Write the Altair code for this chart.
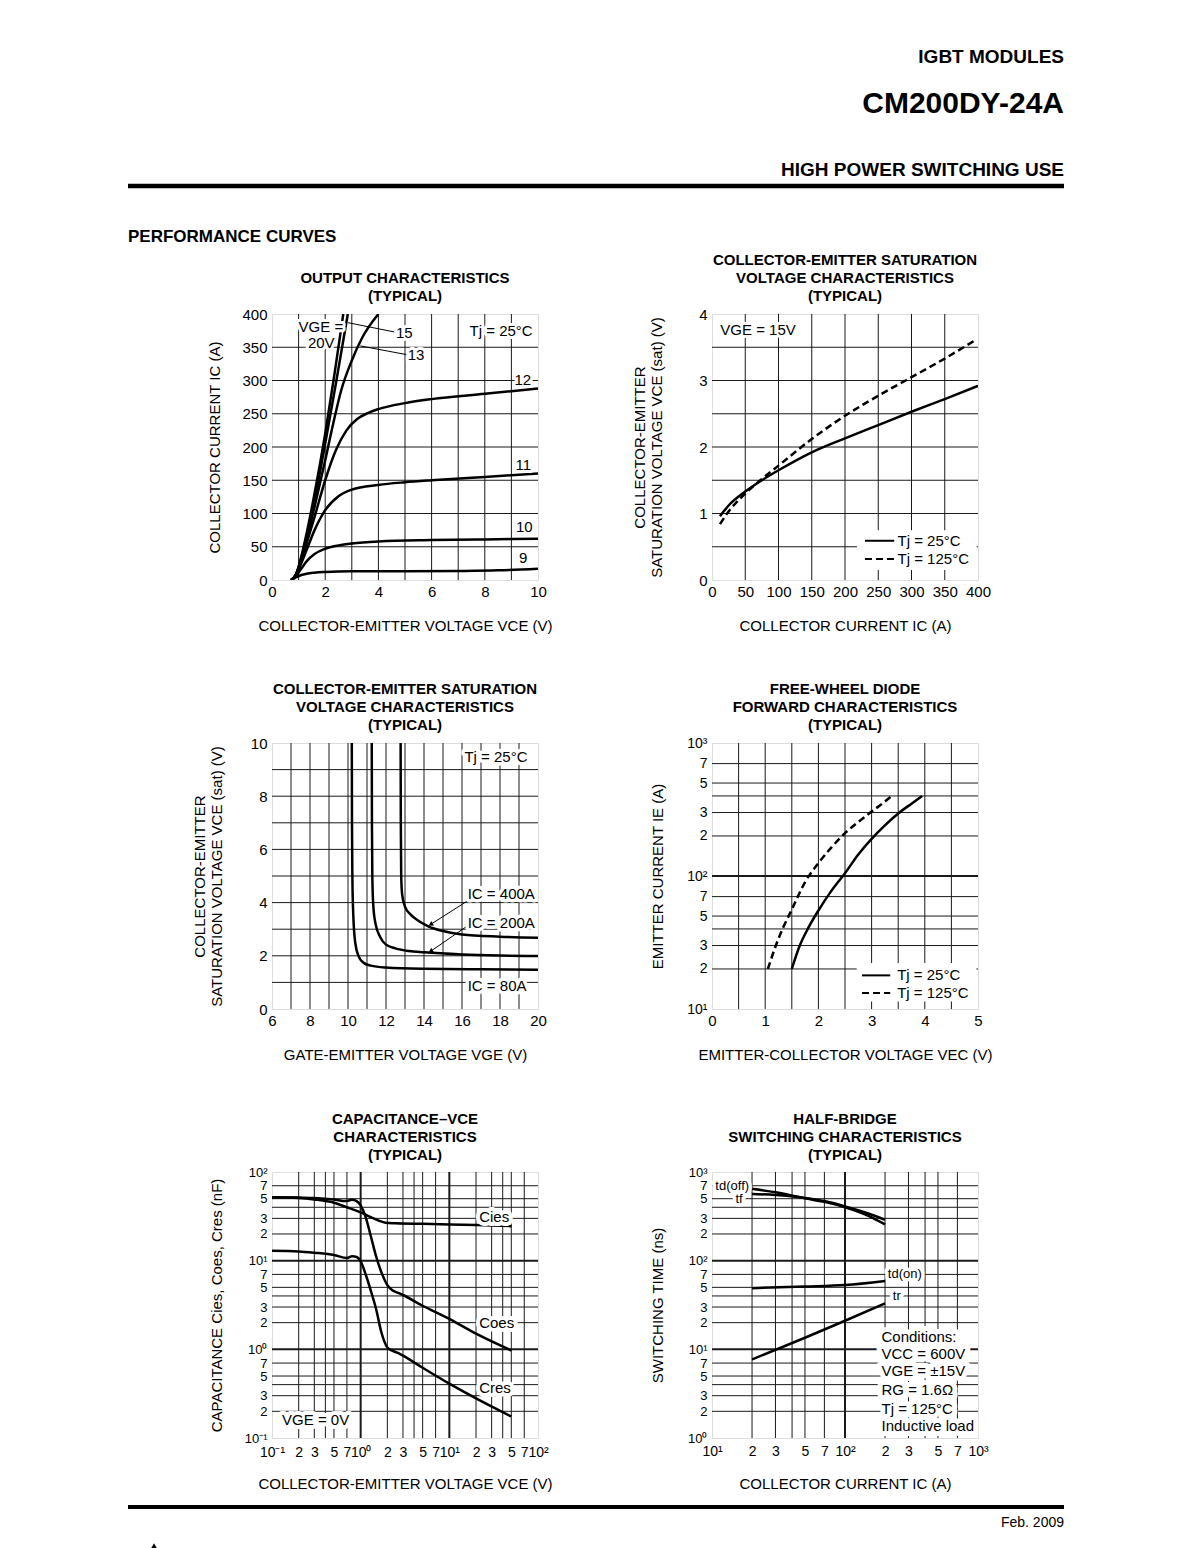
import altair as alt
import pandas as pd

FONT = "Liberation Sans"
PW, PH = 266, 266
GRID = "#1a1a1a"

# ---------------- 1. OUTPUT CHARACTERISTICS ----------------
oc_vce_20 = [0.72, 0.9, 1.1, 1.3, 1.6, 2.0, 2.35, 2.68]
oc_ic_20 = [0, 8, 35, 70, 130, 220, 310, 400]
oc_vce_15 = [0.72, 0.9, 1.1, 1.3, 1.6, 2.0, 2.4, 2.85]
oc_ic_15 = [0, 8, 33, 65, 120, 205, 295, 400]
oc_vce_13 = [0.72, 0.9, 1.1, 1.3, 1.6, 2.0, 2.3, 2.6, 3.0, 3.4, 4.0]
oc_ic_13 = [0, 8, 30, 60, 110, 180, 235, 285, 330, 365, 400]
oc_vce_12 = [0.72, 0.9, 1.1, 1.3, 1.6, 2.0, 2.4, 2.8, 3.2, 3.6, 4.0, 5.0, 6.0, 8.0, 10.0]
oc_ic_12 = [0, 8, 28, 55, 95, 150, 195, 225, 242, 251, 257, 266, 272, 280, 288]
oc_vce_11 = [0.72, 0.9, 1.1, 1.3, 1.6, 2.0, 2.5, 3.0, 4.0, 5.0, 6.0, 8.0, 10.0]
oc_ic_11 = [0, 7, 25, 45, 75, 105, 126, 136, 143, 147, 150, 155, 160]
oc_vce_10 = [0.72, 0.9, 1.1, 1.3, 1.6, 2.0, 2.5, 3.0, 4.0, 6.0, 8.0, 10.0]
oc_ic_10 = [0, 6, 17, 28, 39, 47, 52, 55, 58, 60, 61, 62]
oc_vce_9 = [0.72, 0.9, 1.1, 1.3, 1.6, 2.0, 3.0, 5.0, 7.0, 8.5, 10.0]
oc_ic_9 = [0, 4, 7.5, 9.5, 11, 12, 13, 13, 13.5, 14.5, 17]
oc_ticks_x = [0, 2, 4, 6, 8, 10]
oc_ticks_y = [0, 50, 100, 150, 200, 250, 300, 350, 400]
oc_grid_x = [1, 2, 3, 4, 5, 6, 7, 8, 9]
oc_grid_y = [50, 100, 150, 200, 250, 300, 350]
oc_lab_text = ["VGE =", "20V", "15", "13"]
oc_lab_x = [1.0, 1.35, 4.66, 5.1]
oc_lab_y = [380, 357, 372, 339]
oc_rlab_text = ["12", "11", "10", "9", "Tj = 25°C"]
oc_rlab_x = [9.74, 9.74, 9.8, 9.6, 9.8]
oc_rlab_y = [301, 173, 80, 33, 375]
oc_lead_x = [2.85, 3.32]
oc_lead_y = [387, 352]
oc_lead_x2 = [4.6, 5.05]
oc_lead_y2 = [373, 339]

# ---------------- 2. VCE(sat) vs IC ----------------
vs_ic_25 = [12, 25, 50, 75, 100, 150, 200, 250, 300, 350, 400]
vs_v_25 = [0.96, 1.12, 1.33, 1.5, 1.65, 1.92, 2.13, 2.33, 2.53, 2.72, 2.92]
vs_ic_125 = [12, 25, 50, 75, 100, 150, 200, 250, 300, 350, 395]
vs_v_125 = [0.84, 1.03, 1.3, 1.52, 1.72, 2.12, 2.47, 2.77, 3.05, 3.33, 3.6]
vs_ticks_x = [0, 50, 100, 150, 200, 250, 300, 350, 400]
vs_ticks_y = [0, 1, 2, 3, 4]
vs_grid_x = [50, 100, 150, 200, 250, 300, 350]
vs_grid_y = [0.5, 1, 1.5, 2, 2.5, 3, 3.5]

# ---------------- 3. VCE(sat) vs VGE ----------------
ge_vge_80 = [10.2, 10.21, 10.23, 10.28, 10.38, 10.55, 10.8, 11.2, 12, 14, 17, 20]
ge_v_80 = [10, 7, 5, 3.5, 2.5, 2.0, 1.75, 1.63, 1.56, 1.51, 1.49, 1.48]
ge_vge_200 = [11.25, 11.26, 11.28, 11.33, 11.45, 11.7, 12.0, 12.5, 13.2, 14, 16, 18, 20]
ge_v_200 = [10, 7, 5, 3.9, 3.2, 2.7, 2.42, 2.28, 2.18, 2.13, 2.05, 2.01, 1.99]
ge_vge_400 = [12.77, 12.78, 12.8, 12.85, 13.0, 13.3, 13.7, 14.2, 15, 16, 18, 20]
ge_v_400 = [10, 7, 5, 4.3, 3.85, 3.55, 3.32, 3.12, 2.93, 2.8, 2.72, 2.68]
ge_ticks_x = [6, 8, 10, 12, 14, 16, 18, 20]
ge_ticks_y = [0, 2, 4, 6, 8, 10]
ge_grid_x = [7, 8, 9, 10, 11, 12, 13, 14, 15, 16, 17, 18, 19]
ge_grid_y = [1, 2, 3, 4, 5, 6, 7, 8, 9]

# ---------------- 4. FREE-WHEEL DIODE ----------------
fd_v_25 = [1.5, 1.65, 1.8, 2.0, 2.25, 2.5, 2.75, 3.0, 3.25, 3.5, 3.75, 3.95]
fd_i_25 = [20, 30, 40, 55, 78, 105, 145, 190, 240, 295, 350, 400]
fd_v_125 = [1.05, 1.2, 1.35, 1.5, 1.75, 2.0, 2.25, 2.5, 2.75, 3.0, 3.2, 3.38]
fd_i_125 = [20, 30, 42, 56, 90, 125, 165, 210, 255, 305, 350, 400]
fd_ticks_x = [0, 1, 2, 3, 4, 5]
fd_grid_x = [0.5, 1, 1.5, 2, 2.5, 3, 3.5, 4, 4.5]
fd_ticks_y = [10, 20, 30, 50, 70, 100, 200, 300, 500, 700, 1000]
fd_labels_y = ["10¹", "2", "3", "5", "7", "10²", "2", "3", "5", "7", "10³"]
fd_grid_y = [20, 30, 40, 50, 70, 200, 300, 400, 500, 700]
fd_grid_y_major = [100]

# ---------------- 5. CAPACITANCE ----------------
cap_v_ies = [0.1, 0.2, 0.3, 0.5, 0.7, 1.0, 1.3, 1.6, 1.9, 2.5, 5, 10, 20, 50]
cap_c_ies = [52, 51, 49, 45, 40, 35, 31, 28.3, 26.8, 26.4, 26, 25.6, 25.2, 24.5]
cap_v_oes = [0.1, 0.2, 0.3, 0.5, 0.68, 0.8, 0.9, 1.0, 1.15, 1.3, 1.5, 1.75, 2.0, 2.3, 2.7, 3.0, 5, 10, 20, 50]
cap_c_oes = [52, 51.5, 51, 49, 47, 48.5, 47, 42, 30, 19, 11, 7, 5.3, 4.6, 4.3, 4.1, 3.1, 2.2, 1.5, 0.97]
cap_v_res = [0.1, 0.2, 0.3, 0.5, 0.7, 0.8, 0.9, 1.0, 1.15, 1.3, 1.5, 1.7, 2.0, 2.3, 2.7, 3.0, 5, 10, 20, 50]
cap_c_res = [12.9, 12.7, 12.3, 11.6, 10.7, 11.2, 11.0, 9.8, 6.8, 4.6, 2.8, 1.6, 1.05, 0.96, 0.9, 0.85, 0.62, 0.41, 0.28, 0.175]
cap_ticks = [0.1, 0.2, 0.3, 0.5, 0.7, 1, 2, 3, 5, 7, 10, 20, 30, 50, 70, 100]
cap_labels = ["10⁻¹", "2", "3", "5", "7", "10⁰", "2", "3", "5", "7", "10¹", "2", "3", "5", "7", "10²"]
cap_grid = [0.2, 0.3, 0.4, 0.5, 0.7, 2, 3, 4, 5, 7, 20, 30, 40, 50, 70]
cap_grid_major = [1, 10]

# ---------------- 6. SWITCHING ----------------
sw_ic = [20, 30, 50, 70, 100, 150, 200]
sw_tdoff = [646, 590, 505, 460, 400, 320, 256]
sw_tf = [565, 550, 510, 470, 410, 340, 288]
sw_ic2 = [20, 50, 100, 200]
sw_tdon = [49, 51, 53, 59]
sw_tr = [7.7, 13.5, 21, 33]
sw_ticks_x = [10, 20, 30, 50, 70, 100, 200, 300, 500, 700, 1000]
sw_labels_x = ["10¹", "2", "3", "5", "7", "10²", "2", "3", "5", "7", "10³"]
sw_grid_x = [20, 30, 40, 50, 70, 200, 300, 400, 500, 700]
sw_grid_x_major = [100]
sw_ticks_y = [1, 2, 3, 5, 7, 10, 20, 30, 50, 70, 100, 200, 300, 500, 700, 1000]
sw_labels_y = ["10⁰", "2", "3", "5", "7", "10¹", "2", "3", "5", "7", "10²", "2", "3", "5", "7", "10³"]
sw_grid_y = [2, 3, 4, 5, 7, 20, 30, 40, 50, 70, 200, 300, 400, 500, 700]
sw_grid_y_major = [10, 100]
sw_cond = ["Conditions:", "VCC = 600V", "VGE = ±15V", "RG = 1.6Ω", "Tj = 125°C", "Inductive load"]
sw_cond_y = [13.6, 8.8, 5.7, 3.47, 2.1, 1.36]


# ======================= helpers =======================
def expr_for(values, labels):
    e = "''"
    for v, l in reversed(list(zip(values, labels))):
        e = f"datum.value == {v} ? '{l}' : {e}"
    return e


def x_axis(values, title, labels=None, size=15, pad=4):
    kw = dict(values=values, title=title, grid=False, ticks=False, domain=False,
              labelFont=FONT, labelFontSize=size, labelColor="black", labelPadding=pad,
              labelFlush=False, labelOverlap=False, labelBound=False,
              titleFont=FONT, titleFontSize=15, titleFontWeight="normal", titleColor="black",
              titleX=PW / 2, titleY=45, titleBaseline="middle", titleAlign="center", titleAngle=0)
    if labels is not None:
        kw["labelExpr"] = expr_for(values, labels)
    return alt.Axis(**kw)


def y_axis(values, title, labels=None, tx=-56, size=15):
    kw = dict(values=values, title=title, grid=False, ticks=False, domain=False,
              labelFont=FONT, labelFontSize=size, labelColor="black", labelPadding=5,
              labelFlush=False, labelOverlap=False, labelBound=False,
              titleFont=FONT, titleFontSize=15, titleFontWeight="normal", titleColor="black",
              titleX=tx, titleY=PH / 2, titleBaseline="middle", titleAlign="center",
              titleAngle=270, titleLineHeight=17.5)
    if labels is not None:
        kw["labelExpr"] = expr_for(values, labels)
    return alt.Axis(**kw)


def curve_df(series):
    rows = []
    for name, xs, ys in series:
        for i, (a, b) in enumerate(zip(xs, ys)):
            rows.append({"x": a, "y": b, "s": name, "i": i})
    return pd.DataFrame(rows)


class P:
    def __init__(self, xs, ys, xa, ya):
        self.xs, self.ys, self.xa, self.ya = xs, ys, xa, ya
        self.layers = []

    def X(self, f):
        return alt.X(f, scale=self.xs, axis=self.xa)

    def Y(self, f):
        return alt.Y(f, scale=self.ys, axis=self.ya)

    def grid(self, gx, gy, width=1):
        if gx:
            self.layers.append(alt.Chart(pd.DataFrame({"gx": gx})).mark_rule(
                color=GRID, strokeWidth=width).encode(x=self.X("gx:Q")))
        if gy:
            self.layers.append(alt.Chart(pd.DataFrame({"gy": gy})).mark_rule(
                color=GRID, strokeWidth=width).encode(y=self.Y("gy:Q")))

    def curves(self, series, dash=None, interp="monotone"):
        kw = dict(color="black", strokeWidth=2.5, interpolate=interp, clip=True)
        if dash:
            kw["strokeDash"] = dash
        self.layers.append(alt.Chart(curve_df(series)).mark_line(**kw).encode(
            x=self.X("x:Q"), y=self.Y("y:Q"), detail="s:N", order="i:Q"))

    def text(self, xs, ys, ts, align="left", size=15, halo=8):
        df = pd.DataFrame({"x": xs, "y": ys, "t": ts})
        enc = dict(x=self.X("x:Q"), y=self.Y("y:Q"), text="t:N")
        if halo:
            self.layers.append(alt.Chart(df).mark_text(
                align=align, baseline="middle", font=FONT, fontSize=size,
                fill="white", stroke="white", strokeWidth=halo, strokeJoin="round").encode(**enc))
        self.layers.append(alt.Chart(df).mark_text(
            align=align, baseline="middle", font=FONT, fontSize=size, fill="black").encode(**enc))

    def segs(self, x, y, x2, y2, width=1, dash=None):
        df = pd.DataFrame({"x": x, "y": y, "x2": x2, "y2": y2})
        kw = dict(color="black", strokeWidth=width)
        if dash:
            kw["strokeDash"] = dash
        self.layers.append(alt.Chart(df).mark_rule(**kw).encode(
            x=self.X("x:Q"), y=self.Y("y:Q"), x2="x2:Q", y2="y2:Q"))

    def box(self, x, y, x2, y2):
        df = pd.DataFrame({"x": [x], "y": [y], "x2": [x2], "y2": [y2]})
        self.layers.append(alt.Chart(df).mark_rect(fill="white").encode(
            x=self.X("x:Q"), y=self.Y("y:Q"), x2="x2:Q", y2="y2:Q"))

    def chart(self, title):
        return alt.layer(*self.layers).properties(
            width=PW, height=PH,
            title=alt.TitleParams(text=title, font=FONT, fontSize=15, fontWeight="bold",
                                  color="black", anchor="middle", frame="group",
                                  baseline="bottom", offset=-12, lineHeight=18))


def lin(d):
    return alt.Scale(domain=d, nice=False, zero=False)


def log(d):
    return alt.Scale(type="log", domain=d, nice=False)


SAT_TITLE = ["COLLECTOR-EMITTER", "SATURATION VOLTAGE  VCE (sat) (V)"]
LOGSIZE = 13

# ---- panel 1
p = P(lin([0, 10]), lin([0, 400]),
      x_axis(oc_ticks_x, "COLLECTOR-EMITTER VOLTAGE  VCE (V)"),
      y_axis(oc_ticks_y, "COLLECTOR CURRENT  IC (A)", tx=-58))
p.grid(oc_grid_x, oc_grid_y)
p.curves([("20", oc_vce_20, oc_ic_20), ("15", oc_vce_15, oc_ic_15), ("13", oc_vce_13, oc_ic_13),
          ("12", oc_vce_12, oc_ic_12), ("11", oc_vce_11, oc_ic_11), ("10", oc_vce_10, oc_ic_10),
          ("9", oc_vce_9, oc_ic_9)])
p.segs(oc_lead_x, oc_lead_y, oc_lead_x2, oc_lead_y2)
p.text(oc_lab_x, oc_lab_y, oc_lab_text, align="left", halo=6)
p.text(oc_rlab_x, oc_rlab_y, oc_rlab_text, align="right", halo=6)
c1 = p.chart(["OUTPUT CHARACTERISTICS", "(TYPICAL)"])

# ---- panel 2
p = P(lin([0, 400]), lin([0, 4]),
      x_axis(vs_ticks_x, "COLLECTOR CURRENT  IC (A)"),
      y_axis(vs_ticks_y, SAT_TITLE, tx=-73))
p.grid(vs_grid_x, vs_grid_y)
p.box(218, 0.15, 398, 0.75)
p.curves([("25", vs_ic_25, vs_v_25)])
p.curves([("125", vs_ic_125, vs_v_125)], dash=[7, 4])
p.segs([230], [0.59], [274], [0.59], width=2)
p.segs([230], [0.315], [274], [0.315], width=2, dash=[7, 4])
p.text([279, 279], [0.59, 0.315], ["Tj = 25°C", "Tj = 125°C"], halo=0)
p.text([12.5], [3.76], ["VGE = 15V"], halo=6)
c2 = p.chart(["COLLECTOR-EMITTER SATURATION", "VOLTAGE CHARACTERISTICS", "(TYPICAL)"])

# ---- panel 3
p = P(lin([6, 20]), lin([0, 10]),
      x_axis(ge_ticks_x, "GATE-EMITTER VOLTAGE  VGE (V)"),
      y_axis(ge_ticks_y, SAT_TITLE, tx=-73))
p.grid(ge_grid_x, ge_grid_y)
p.curves([("80", ge_vge_80, ge_v_80), ("200", ge_vge_200, ge_v_200), ("400", ge_vge_400, ge_v_400)])
p.segs([16.28, 16.28], [4.06, 3.12], [14.35, 14.35], [3.18, 2.17])
p.layers.append(alt.Chart(pd.DataFrame({"x": [14.35, 14.35], "y": [3.18, 2.17]})).mark_point(
    shape="triangle-up", filled=True, size=28, color="black", opacity=1, angle=238).encode(
    x=p.X("x:Q"), y=p.Y("y:Q")))
p.text([16.3, 16.3, 16.3], [4.31, 3.25, 0.85], ["IC = 400A", "IC = 200A", "IC = 80A"], halo=7)
p.text([19.45], [9.47], ["Tj = 25°C"], align="right", halo=7)
c3 = p.chart(["COLLECTOR-EMITTER SATURATION", "VOLTAGE CHARACTERISTICS", "(TYPICAL)"])

# ---- panel 4
p = P(lin([0, 5]), log([10, 1000]),
      x_axis(fd_ticks_x, "EMITTER-COLLECTOR VOLTAGE  VEC (V)"),
      y_axis(fd_ticks_y, "EMITTER CURRENT  IE (A)", labels=fd_labels_y, tx=-55, size=14))
p.grid(fd_grid_x, fd_grid_y)
p.grid([], fd_grid_y_major, width=2)
p.box(2.72, 11.4, 4.97, 22.2)
p.curves([("25", fd_v_25, fd_i_25)])
p.curves([("125", fd_v_125, fd_i_125)], dash=[7, 4])
p.segs([2.82], [17.9], [3.35], [17.9], width=2)
p.segs([2.82], [13.2], [3.35], [13.2], width=2, dash=[7, 4])
p.text([3.48, 3.48], [17.9, 13.2], ["Tj = 25°C", "Tj = 125°C"], halo=0)
c4 = p.chart(["FREE-WHEEL DIODE", "FORWARD CHARACTERISTICS", "(TYPICAL)"])

# ---- panel 5
p = P(log([0.1, 100]), log([0.1, 100]),
      x_axis(cap_ticks, "COLLECTOR-EMITTER VOLTAGE  VCE (V)", labels=cap_labels, size=14, pad=7),
      y_axis(cap_ticks, "CAPACITANCE  Cies, Coes, Cres (nF)", labels=cap_labels, tx=-56, size=LOGSIZE))
p.grid(cap_grid, cap_grid)
p.grid(cap_grid_major, cap_grid_major, width=2)
p.curves([("ies", cap_v_ies, cap_c_ies), ("oes", cap_v_oes, cap_c_oes), ("res", cap_v_res, cap_c_res)])
p.text([21.7, 21.7, 21.7], [31, 1.96, 0.367], ["Cies", "Coes", "Cres"], halo=8)
p.text([0.13], [0.16], ["VGE = 0V"], halo=8)
c5 = p.chart(["CAPACITANCE–VCE", "CHARACTERISTICS", "(TYPICAL)"])

# ---- panel 6
p = P(log([10, 1000]), log([1, 1000]),
      x_axis(sw_ticks_x, "COLLECTOR CURRENT  IC (A)", labels=sw_labels_x, size=14, pad=6),
      y_axis(sw_ticks_y, "SWITCHING TIME (ns)", labels=sw_labels_y, tx=-55, size=LOGSIZE))
p.grid(sw_grid_x, sw_grid_y)
p.grid(sw_grid_x_major, sw_grid_y_major, width=2)
p.curves([("tdoff", sw_ic, sw_tdoff), ("tf", sw_ic, sw_tf),
          ("tdon", sw_ic2, sw_tdon), ("tr", sw_ic2, sw_tr)])
p.text([10.6, 15.0], [700, 500], ["td(off)", "tf"], size=13, halo=7)
p.text([210, 229], [70, 40], ["td(on)", "tr"], size=13, halo=7)
p.text([188] * len(sw_cond), sw_cond_y, sw_cond, halo=10)
c6 = p.chart(["HALF-BRIDGE", "SWITCHING CHARACTERISTICS", "(TYPICAL)"])


# ======================= page header / footer =======================
def htext(t, x, y, size, weight="bold", align="right"):
    return alt.Chart(pd.DataFrame({"t": [t]})).mark_text(
        align=align, baseline="middle", font=FONT, fontSize=size, fontWeight=weight,
        color="black").encode(x=alt.value(x), y=alt.value(y), text="t:N")


def hrule(y, w):
    return alt.Chart(pd.DataFrame({"a": [0]})).mark_rule(color="black", strokeWidth=w).encode(
        x=alt.value(-144), x2=alt.value(792), y=alt.value(y))


header = alt.layer(
    htext("IGBT MODULES", 792, 49, 19),
    htext("CM200DY-24A", 792, 96, 30),
    htext("HIGH POWER SWITCHING USE", 792, 162, 19),
    hrule(178, 4.5),
    htext("PERFORMANCE CURVES", -144, 229, 17, align="left"),
    hrule(1499, 4),
    htext("Feb. 2009", 792, 1515, 14, weight="normal"),
    alt.Chart(pd.DataFrame({"a": [0]})).mark_point(
        shape="triangle-up", filled=True, size=40, color="black", opacity=1).encode(
        x=alt.value(-118), y=alt.value(1538)),
).properties(width=PW, height=143, view=alt.ViewBackground(stroke="transparent", strokeWidth=0))

blank = alt.Chart(pd.DataFrame({"t": [""]})).mark_text().encode(text="t:N").properties(
    width=PW, height=143, view=alt.ViewBackground(stroke="transparent", strokeWidth=0))

chart = alt.concat(
    header, blank, c1, c2, c3, c4, c5, c6,
    columns=2, spacing={"row": 163, "column": 174}, bounds="flush", align="each",
).properties(
    padding={"left": 117, "top": 0, "right": 5, "bottom": 0},
    background="white",
).configure_view(stroke="black", strokeWidth=2).configure(font=FONT)

chart.save("out.html", embed_options={"renderer": "svg", "actions": False})
